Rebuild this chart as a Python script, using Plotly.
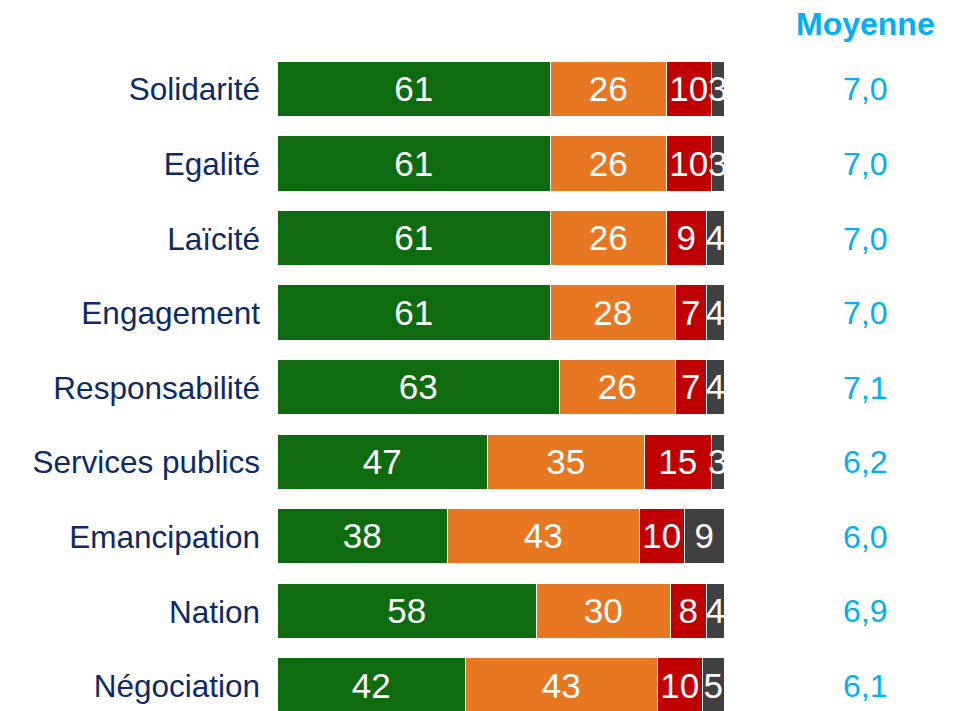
import plotly.graph_objects as go

# Survey items, top to bottom
categories = ["Solidarité", "Egalité", "Laïcité", "Engagement", "Responsabilité",
              "Services publics", "Emancipation", "Nation", "Négociation"]

# Share of answers per score band (%)
band_high = [61, 61, 61, 61, 63, 47, 38, 58, 42]
band_mid = [26, 26, 26, 28, 26, 35, 43, 30, 43]
band_low = [10, 10, 9, 7, 7, 15, 10, 8, 10]
band_na = [3, 3, 4, 4, 4, 3, 9, 4, 5]

# Average score per item
means = ["7,0", "7,0", "7,0", "7,0", "7,1", "6,2", "6,0", "6,9", "6,1"]
mean_title = "Moyenne"

series = [
    (band_high, "#0F6B10"),
    (band_mid, "#E87722"),
    (band_low, "#C00000"),
    (band_na, "#404040"),
]

FONT = "Arial, Liberation Sans, sans-serif"
ypos = list(range(len(categories)))

fig = go.Figure()
for values, color in series:
    fig.add_trace(go.Bar(
        x=values,
        y=ypos,
        orientation="h",
        width=0.74,
        marker=dict(color=color, line=dict(color="white", width=1.5)),
        text=values,
        texttemplate="%{text}",
        textposition="inside",
        insidetextanchor="middle",
        constraintext="none",
        cliponaxis=True,
        textfont=dict(family=FONT, size=35, color="white"),
        hoverinfo="skip",
        showlegend=False,
    ))

# Average score column
for i, m in enumerate(means):
    fig.add_annotation(
        x=1.313, xref="paper", y=i, yref="y",
        text=m, showarrow=False, xanchor="center", yanchor="middle",
        font=dict(family=FONT, size=32, color="#00B0F0"),
    )
fig.add_annotation(
    x=1.315, xref="paper", y=1 + (52 - 24) / 659, yref="paper", yanchor="middle",
    text=f"<b>{mean_title}</b>", showarrow=False, xanchor="center",
    font=dict(family=FONT, size=32, color="#00B0F0"),
)

fig.update_layout(
    width=964, height=711,
    margin=dict(l=278, r=239, t=52, b=0),
    barmode="stack",
    bargap=0,
    paper_bgcolor="white",
    plot_bgcolor="white",
    uniformtext=dict(minsize=35, mode="show"),
    xaxis=dict(range=[0, 100], visible=False, fixedrange=True),
    yaxis=dict(
        range=[8.334, -0.5],
        tickmode="array",
        tickvals=ypos,
        ticktext=categories,
        tickfont=dict(family=FONT, size=31.5, color="#0D2A66"),
        ticklabelstandoff=17,
        showgrid=False, zeroline=False, showline=False, ticks="",
        fixedrange=True,
    ),
)

fig.write_html("out.html")
